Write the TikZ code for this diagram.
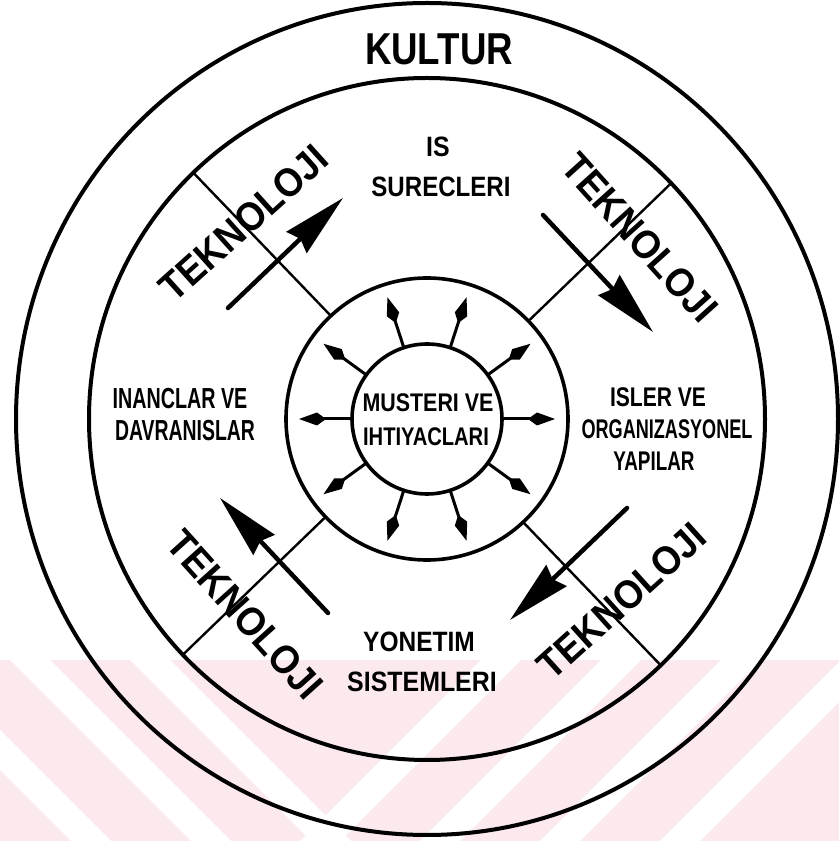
\documentclass[tikz,border=0pt]{standalone}
\usepackage{fontspec}
\setmainfont{Liberation Sans}
\usetikzlibrary{arrows.meta}
\newcommand{\sq}[2]{\scalebox{#1}[1]{#2}}
\definecolor{wm}{HTML}{FCE9ED}
\begin{document}
\begin{tikzpicture}[x=1pt,y=1pt,line cap=round,
  ring/.style={line width=4pt},
  spoke/.style={line width=2.4pt},
  bigarrow/.style={line width=4.5pt,-{Stealth[length=64pt,width=29pt,inset=5pt]}},
  smallarrow/.style={line width=3pt,-{Kite[length=27pt,width=13pt,inset=9pt]}},
  lbl/.style={inner sep=0pt,font=\bfseries},
  wmstripe/.style={fill=white,draw=none},
]
\useasboundingbox (0,0) rectangle (839,841);
\fill[white] (0,0) rectangle (839,841);
% watermark (faint chevron stripes)
\begin{scope}
  \clip (0,0) rectangle (839,181);
  \fill[wm] (0,0) rectangle (839,181);
  \foreach \s in {-230,-110,10,130}{
    \fill[wmstripe] (\s,181) -- (\s+40,181) -- (\s+221,0) -- (\s+181,0) -- cycle;
  }
  \foreach \s in {300,420,540,660}{
    \fill[wmstripe] (\s,0) -- (\s+40,0) -- (\s+221,181) -- (\s+181,181) -- cycle;
  }
\end{scope}
\coordinate (c) at (427,422);
% rings
\draw[ring] (c) ellipse [x radius=411, y radius=416];
\draw[ring] (c) ellipse [x radius=338, y radius=341];
\node[circle,draw,line width=3.6pt,minimum size=282pt,inner sep=0pt] (inner) at (c) {};
\node[circle,draw,line width=3.6pt,minimum size=150pt,inner sep=0pt] (core) at (c) {};
% spokes
\begin{scope}[shift={(c)}]
  \foreach \a in {133.5,44,224,313.5}{
    \draw[spoke] (inner.\a) -- (\a:339.5);
  }
  \foreach \a in {0,36,...,324}{
    \draw[smallarrow] (core.\a) -- (\a:128);
  }
\end{scope}
% big arrows
\coordinate (ula) at (228,533); \coordinate (ulb) at (343,643);
\coordinate (ura) at (543,626); \coordinate (urb) at (653,509);
\coordinate (lla) at (328,228); \coordinate (llb) at (220,343);
\coordinate (lra) at (627,333); \coordinate (lrb) at (510,221);
\draw[bigarrow] (ula) -- (ulb);
\draw[bigarrow] (ura) -- (urb);
\draw[bigarrow] (lla) -- (llb);
\draw[bigarrow] (lra) -- (lrb);
% labels
\node[lbl,font=\bfseries\fontsize{44.7}{44.7}\selectfont] (kultur) at (439,792) {\sq{0.82}{KULTUR}};
\node[lbl,font=\bfseries\fontsize{28}{28}\selectfont] (is) at (438,694) {\sq{0.89}{IS}};
\node[lbl,font=\bfseries\fontsize{28}{28}\selectfont] (surec) at (441,654) {\sq{0.86}{SURECLERI}};
\node[lbl,font=\bfseries\fontsize{25.5}{25.5}\selectfont] (must) at (428,438) {\sq{0.84}{MUSTERI VE}};
\node[lbl,font=\bfseries\fontsize{25.5}{25.5}\selectfont] (iht) at (426,404) {\sq{0.79}{IHTIYACLARI}};
\node[lbl,font=\bfseries\fontsize{29}{29}\selectfont] (inan) at (180,442) {\sq{0.68}{INANCLAR VE}};
\node[lbl,font=\bfseries\fontsize{29}{29}\selectfont] (davr) at (185,410) {\sq{0.67}{DAVRANISLAR}};
\node[lbl,font=\bfseries\fontsize{27}{27}\selectfont] (isler) at (658,444) {\sq{0.78}{ISLER VE}};
\node[lbl,font=\bfseries\fontsize{27}{27}\selectfont] (org) at (667,412) {\sq{0.67}{ORGANIZASYONEL}};
\node[lbl,font=\bfseries\fontsize{27}{27}\selectfont] (yap) at (654,380) {\sq{0.70}{YAPILAR}};
\node[lbl,font=\bfseries\fontsize{28}{28}\selectfont] (yon) at (419,199) {\sq{0.875}{YONETIM}};
\node[lbl,font=\bfseries\fontsize{28}{28}\selectfont] (sis) at (422,159) {\sq{0.89}{SISTEMLERI}};
\node[lbl,font=\bfseries\fontsize{40}{40}\selectfont,rotate=42] (tul) at (244,618) {\sq{0.92}{TEKNOLOJI}};
\node[lbl,font=\bfseries\fontsize{40}{40}\selectfont,rotate=-48] (tur) at (640,603) {\sq{0.92}{TEKNOLOJI}};
\node[lbl,font=\bfseries\fontsize{40}{40}\selectfont,rotate=-48] (tll) at (245,226) {\sq{0.92}{TEKNOLOJI}};
\node[lbl,font=\bfseries\fontsize{40}{40}\selectfont,rotate=42] (tlr) at (622,240) {\sq{0.92}{TEKNOLOJI}};
\end{tikzpicture}
\end{document}
